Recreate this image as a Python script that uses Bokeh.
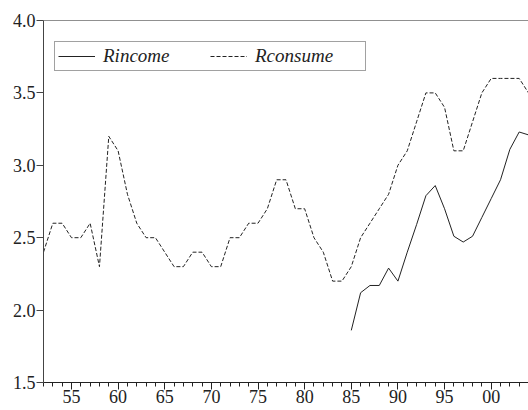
from bokeh.plotting import figure
from bokeh.models import FixedTicker, Span, Legend, LegendItem, Range1d
from bokeh.embed import file_html
from bokeh.resources import INLINE

years = list(range(1952, 2005))
rconsume = [2.4, 2.6, 2.6, 2.5, 2.5, 2.6, 2.3, 3.2, 3.1, 2.8,
            2.6, 2.5, 2.5, 2.4, 2.3, 2.3, 2.4, 2.4, 2.3, 2.3,
            2.5, 2.5, 2.6, 2.6, 2.7, 2.9, 2.9, 2.7, 2.7, 2.5,
            2.4, 2.2, 2.2, 2.3, 2.5, 2.6, 2.7, 2.8, 3.0, 3.1,
            3.3, 3.5, 3.5, 3.4, 3.1, 3.1, 3.3, 3.5, 3.6, 3.6,
            3.6, 3.6, 3.5]
income_years = list(range(1985, 2005))
rincome = [1.86, 2.12, 2.17, 2.17, 2.29, 2.20, 2.40, 2.59, 2.79, 2.86,
           2.70, 2.51, 2.47, 2.51, 2.64, 2.77, 2.90, 3.11, 3.23, 3.21]
x_major = [1955, 1960, 1965, 1970, 1975, 1980, 1985, 1990, 1995, 2000]
x_labels = ["55", "60", "65", "70", "75", "80", "85", "90", "95", "00"]
y_ticks = [1.5, 2.0, 2.5, 3.0, 3.5, 4.0]

FONT = "Liberation Serif"

p = figure(width=528, height=410, output_backend="svg", toolbar_location=None,
           x_range=Range1d(1952, 2004), y_range=Range1d(1.5, 4.0),
           min_border_left=43, min_border_top=20, min_border_right=0, min_border_bottom=28)
p.outline_line_color = None
p.grid.visible = False
p.background_fill_color = "white"
p.border_fill_color = "white"

r1 = p.line(income_years, rincome, line_color="#222222", line_width=1)
r2 = p.line(years, rconsume, line_color="#222222", line_width=1, line_dash="4 2")

p.add_layout(Span(location=4.0, dimension="width", line_color="#222222", line_width=1.2))

xa = p.xaxis[0]
xa.ticker = FixedTicker(ticks=x_major, minor_ticks=years)
xa.major_label_overrides = {y: l for y, l in zip(x_major, x_labels)}
xa.major_tick_in = 0
xa.major_tick_out = 7
xa.minor_tick_in = 0
xa.minor_tick_out = 4
xa.major_label_standoff = 0
xa.axis_line_color = "#222222"
xa.major_tick_line_color = "#222222"
xa.minor_tick_line_color = "#222222"

ya = p.yaxis[0]
ya.ticker = FixedTicker(ticks=y_ticks, minor_ticks=[])
ya.major_label_overrides = {v: f"{v:.1f}" for v in y_ticks}
ya.major_tick_in = 0
ya.major_tick_out = 7
ya.minor_tick_line_color = None
ya.major_label_standoff = 1
ya.axis_line_color = "#444444"
ya.major_tick_line_color = "#444444"

for ax in (xa, ya):
    ax.major_label_text_font = FONT
    ax.major_label_text_font_size = "18px"
    ax.major_label_text_color = "#222222"

legend = Legend(items=[LegendItem(label="Rincome", renderers=[r1]),
                       LegendItem(label="Rconsume", renderers=[r2])],
                orientation="horizontal", location=(11, 311))
legend.label_text_font = FONT
legend.label_text_font_style = "italic"
legend.label_text_font_size = "19px"
legend.label_text_color = "#222222"
legend.glyph_width = 37
legend.glyph_height = 16
legend.label_standoff = 8
legend.label_width = 107
legend.label_height = 16
legend.spacing = 0
legend.padding = 3
legend.margin = 0
legend.border_line_color = "#444444"
legend.border_line_width = 1
legend.background_fill_alpha = 1
p.add_layout(legend)

open("out.html", "w").write(file_html(p, INLINE))
